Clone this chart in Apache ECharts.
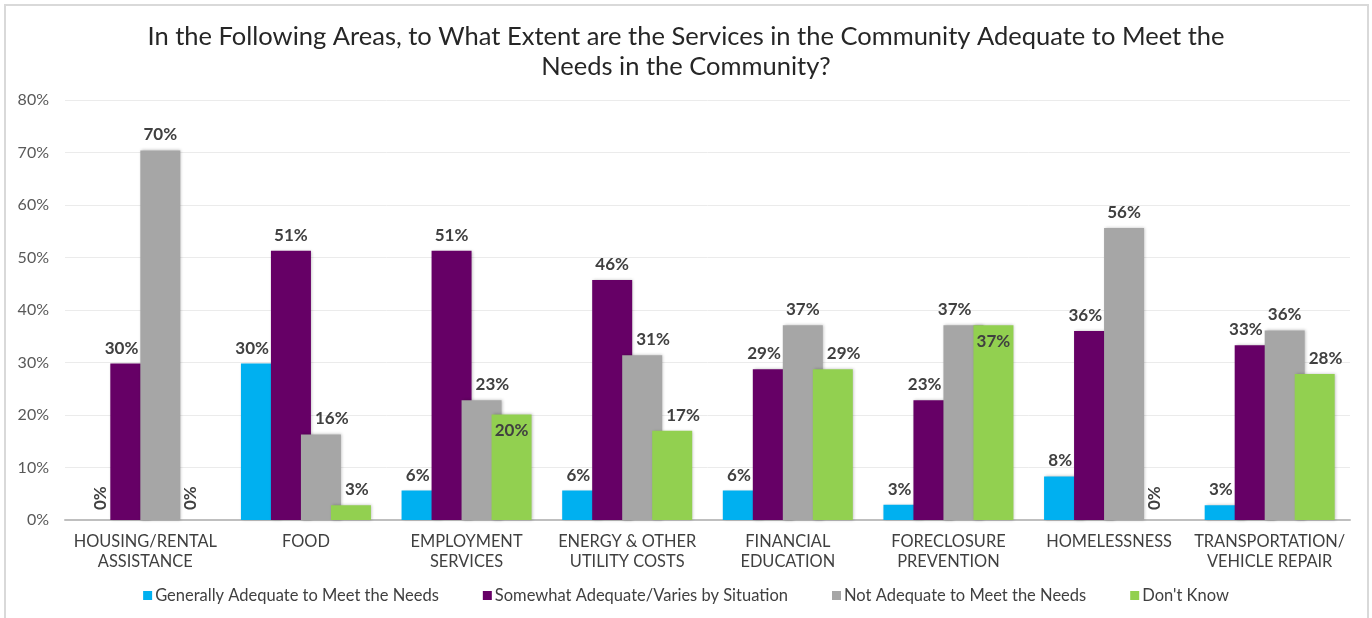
<!DOCTYPE html>
<html>
<head>
<meta charset="utf-8">
<script src="https://cdn.jsdelivr.net/npm/echarts@6/dist/echarts.min.js"></script>
<style>
html,body{margin:0;padding:0;background:#fff;}
#chart{width:1372px;height:618px;}
</style>
</head>
<body>
<div id="chart"></div>
<script>
const categories = ['HOUSING/RENTAL\nASSISTANCE','FOOD','EMPLOYMENT\nSERVICES','ENERGY & OTHER\nUTILITY COSTS','FINANCIAL\nEDUCATION','FORECLOSURE\nPREVENTION','HOMELESSNESS','TRANSPORTATION/\nVEHICLE REPAIR'];
const seriesNames = ['Generally Adequate to Meet the Needs','Somewhat Adequate/Varies by Situation','Not Adequate to Meet the Needs',"Don't Know"];
const generallyAdequate = [0, 29.8, 5.6, 5.6, 5.6, 2.9, 8.3, 2.8];
const somewhatAdequate = [29.8, 51.3, 51.3, 45.7, 28.7, 22.8, 36.0, 33.3];
const notAdequate = [70.4, 16.3, 22.8, 31.4, 37.1, 37.1, 55.6, 36.1];
const dontKnow = [0, 2.8, 20.1, 17.0, 28.7, 37.1, 0, 27.8];
const yTicks = {min: 0, max: 80, interval: 10};
const colors = ['#00B0F0','#660066','#A6A6A6','#92D050'];

const allValues = [generallyAdequate, somewhatAdequate, notAdequate, dontKnow];
const BAR_W = 40, HALF_OVERLAP = 10;
const labelFont = {fontFamily: 'Lato', fontWeight: 'bold', fontSize: 17, color: '#404040'};
const fmt = v => Math.round(v) + '%';

const measureCtx = document.createElement('canvas').getContext('2d');
measureCtx.font = 'bold 17px Lato';
const textW = s => measureCtx.measureText(s).width;

// label placement that avoids neighbouring overlapping bars (as in the original)
function buildLabelData(i){
  const arr = allValues[i];
  return arr.map((v, j) => {
    const prev = i > 0 ? allValues[i-1][j] : null;
    const next = i < allValues.length - 1 ? allValues[i+1][j] : null;
    if (v === 0) {
      return {value: v, label: {rotate: 90, align: 'left', verticalAlign: 'middle', distance: 10}};
    }
    const w = textW(fmt(v));
    if (prev !== null && prev >= v - 0.5 && prev - v < 4) {
      return {value: v, label: {position: 'insideTop', distance: 8}};
    }
    if (next !== null && next > v - 1.5) {
      return {value: v, label: {offset: [HALF_OVERLAP - 2 - w / 2, 0]}};
    }
    if (prev !== null && prev > v) {
      return {value: v, label: {offset: [-HALF_OVERLAP + 4 + w / 2, 0]}};
    }
    return v;
  });
}

const barSeries = allValues.map((arr, i) => ({
  name: seriesNames[i],
  type: 'bar',
  xAxisIndex: 0,
  data: arr,
  barWidth: BAR_W,
  barGap: '-25%',
  itemStyle: {
    color: colors[i],
    shadowColor: 'rgba(0,0,0,0.25)',
    shadowBlur: 3,
    shadowOffsetX: 1,
    shadowOffsetY: 0
  },
  label: {show: false},
  z: 2 + i
}));

const labelSeries = allValues.map((arr, i) => ({
  name: seriesNames[i],
  type: 'bar',
  xAxisIndex: 1,
  data: buildLabelData(i),
  barWidth: BAR_W,
  barGap: '-25%',
  itemStyle: {color: 'rgba(0,0,0,0)'},
  label: Object.assign({
    show: true,
    position: 'top',
    distance: 7,
    formatter: p => fmt(p.value)
  }, labelFont),
  silent: true,
  z: 20
}));

const chart = echarts.init(document.getElementById('chart'), null, {renderer: 'canvas'});
chart.setOption({
  animation: false,
  backgroundColor: '#fff',
  color: colors,
  graphic: [{
    type: 'rect',
    shape: {x: 5, y: 5, width: 1363, height: 640},
    style: {fill: 'none', stroke: '#D9D9D9', lineWidth: 2},
    silent: true, z: -1
  }],
  title: {
    text: 'In the Following Areas, to What Extent are the Services in the Community Adequate to Meet the\nNeeds in the Community?',
    left: 'center',
    top: 17,
    textStyle: {fontFamily: 'Lato', fontWeight: 'normal', fontSize: 25.5, color: '#262626', lineHeight: 30}
  },
  legend: {
    data: seriesNames,
    bottom: 9,
    left: 'center',
    itemWidth: 9,
    itemHeight: 9,
    itemGap: 44,
    icon: 'rect',
    textStyle: {fontFamily: 'Lato', fontSize: 16.5, color: '#404040', padding: [0,0,0,-2]}
  },
  grid: {left: 65, right: 22, top: 100, bottom: 98, containLabel: false},
  xAxis: [{
    type: 'category',
    data: categories,
    axisLine: {lineStyle: {color: '#BFBFBF', width: 2}},
    axisTick: {show: false},
    axisLabel: {fontFamily: 'Lato', fontSize: 16.4, color: '#404040', lineHeight: 20, margin: 12, interval: 0}
  }, {
    type: 'category',
    data: categories,
    position: 'bottom',
    show: false
  }],
  yAxis: {
    type: 'value',
    min: yTicks.min,
    max: yTicks.max,
    interval: yTicks.interval,
    axisLine: {show: false},
    axisTick: {show: false},
    splitLine: {lineStyle: {color: '#EBEBEB', width: 1}},
    axisLabel: {fontFamily: 'Lato', fontSize: 16, color: '#595959', margin: 16, formatter: v => v + '%'}
  },
  series: barSeries.concat(labelSeries)
});
</script>
</body>
</html>
